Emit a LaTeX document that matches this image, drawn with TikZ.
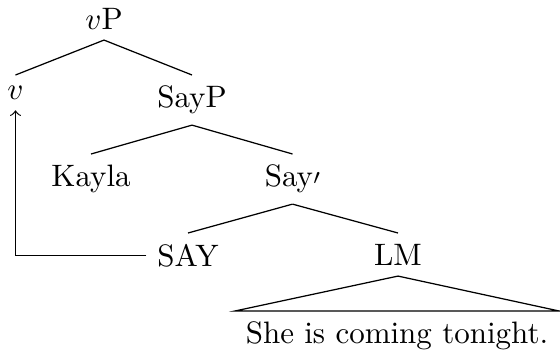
\documentclass[tikz,border=0pt]{standalone}
\begin{document}
\begin{tikzpicture}[x=0.3226pt,y=-0.3226pt,
  tnode/.style={anchor=north,inner sep=.3333em},
  edge/.style={draw,line width=0.4pt}]
\useasboundingbox (0,0) rectangle (560,358);
\node[tnode] (vP) at (104,-3) {$v$P};
\node[tnode] (v) at (15.5,75) {$v$};
\node[tnode] (SayP) at (192,75) {SayP};
\node[tnode] (Kayla) at (91,154) {Kayla};
\node[tnode] (Saybar) at (292.5,154) {Say\raisebox{0.9pt}{$\scriptstyle\prime$}};
\node[tnode] (SAY) at (188,233) {SAY};
\node[tnode] (LM) at (398,233) {LM};
\node[tnode] (sent) at (397,311) {She is coming tonight.};
\draw[edge] (vP.south) -- (v.north);
\draw[edge] (vP.south) -- (SayP.north);
\draw[edge] (SayP.south) -- (Kayla.north);
\draw[edge] (SayP.south) -- (Saybar.north);
\draw[edge] (Saybar.south) -- (SAY.north);
\draw[edge] (Saybar.south) -- (LM.north);
\draw[edge] (LM.south) -- (sent.north west) -- (sent.north east) -- cycle;
\draw[edge,->] (SAY.west) -| (v.south);
\end{tikzpicture}
\end{document}
